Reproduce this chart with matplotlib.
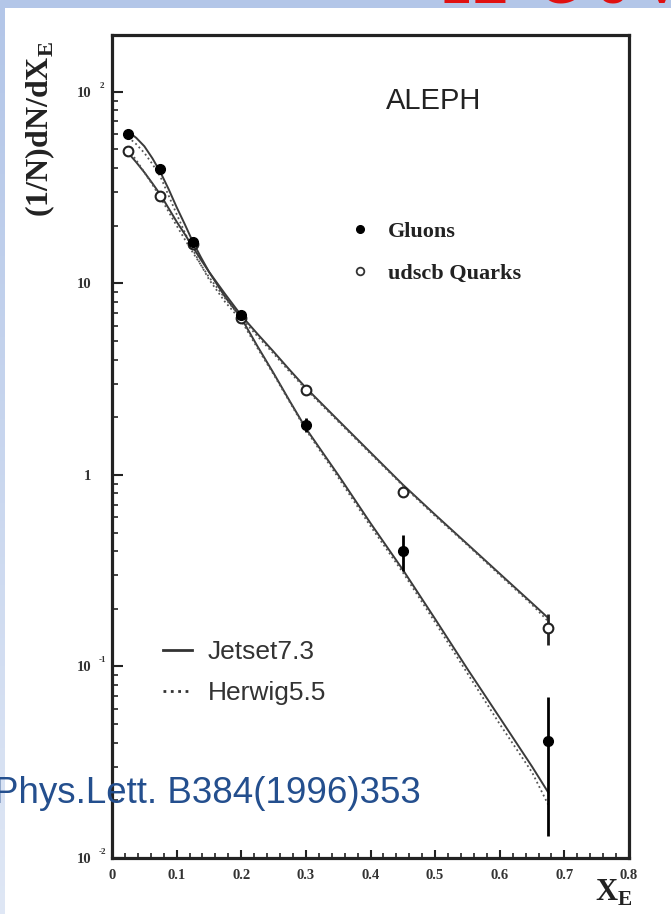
import numpy as np
import matplotlib
matplotlib.use("Agg")
import matplotlib.pyplot as plt
from matplotlib.lines import Line2D
from matplotlib.ticker import FixedLocator, NullFormatter, LogLocator
from matplotlib.colors import LinearSegmentedColormap

# ---------------- data ----------------
x_points = [0.025, 0.075, 0.125, 0.2, 0.3, 0.45, 0.675]
gluon_y = [60.0, 39.5, 16.5, 6.8, 1.83, 0.40, 0.041]
gluon_err_lo = [0.0, 0.0, 0.0, 0.0, 0.15, 0.085, 0.028]
gluon_err_hi = [0.0, 0.0, 0.0, 0.0, 0.16, 0.086, 0.028]

quark_y = [49.0, 28.6, 16.0, 6.6, 2.78, 0.815, 0.159]
quark_err_lo = [0.0, 0.0, 0.0, 0.0, 0.08, 0.05, 0.030]
quark_err_hi = [0.0, 0.0, 0.0, 0.0, 0.08, 0.05, 0.030]

x_curve = [0.025, 0.0375, 0.05, 0.0625, 0.075, 0.0875, 0.1, 0.1125, 0.125,
           0.1375, 0.15, 0.175, 0.2, 0.225, 0.25, 0.275, 0.3, 0.35, 0.4,
           0.45, 0.5, 0.55, 0.6, 0.65, 0.675]
gluon_jetset = [62, 57.5, 52, 45, 38, 31.1, 25, 20.4, 16.5, 13.7, 11.5, 8.5,
                6.6, 4.7, 3.4, 2.43, 1.75, 1.0, 0.56, 0.32, 0.177, 0.097,
                0.054, 0.030, 0.022]
gluon_herwig = [58, 53.3, 48, 42, 36, 28.8, 23, 18.5, 15, 12.5, 10.5, 8.0,
                6.4, 4.6, 3.35, 2.4, 1.72, 0.97, 0.54, 0.31, 0.17, 0.092,
                0.050, 0.028, 0.019]
quark_jetset = [48, 42.9, 38, 33.3, 29, 24.7, 21, 18.1, 15.5, 13.3, 11.5, 8.8,
                6.8, 5.45, 4.4, 3.53, 2.85, 1.93, 1.31, 0.89, 0.62, 0.435,
                0.305, 0.214, 0.179]
quark_herwig = [50, 44, 38, 32.8, 28, 23.7, 20, 17, 14.5, 12.5, 10.8, 8.35,
                6.6, 5.3, 4.3, 3.45, 2.8, 1.9, 1.29, 0.88, 0.61, 0.43,
                0.30, 0.21, 0.172]

xtick_vals = [0, 0.1, 0.2, 0.3, 0.4, 0.5, 0.6, 0.7, 0.8]
xtick_labels = ["0", "0.1", "0.2", "0.3", "0.4", "0.5", "0.6", "0.7", "0.8"]
ytick_vals = [1e-2, 1e-1, 1, 10, 100]
ytick_labels = ["10", "10", "1", "10", "10"]
ytick_exps = ["-2", "-1", "", "", "2"]

# ---------------- figure ----------------
W, H = 671, 914
fig = plt.figure(figsize=(W / 100, H / 100), dpi=100, facecolor="white")

# blue slide border
top = fig.add_axes([0, 1 - 8 / H, 1, 8 / H])
top.set_axis_off()
top.add_patch(plt.Rectangle((0, 0), 1, 1, color="#b3c6e8", transform=top.transAxes))
left = fig.add_axes([0, 0, 5 / W, 1 - 8 / H])
grad = np.linspace(0, 1, 256).reshape(-1, 1)
cm = LinearSegmentedColormap.from_list("b", ["#dfe7f5", "#b3c6e8"])
left.imshow(grad, aspect="auto", cmap=cm, origin="lower", extent=[0, 1, 0, 1])
left.set_axis_off()

fig.text(0.655, 1 - 3 / H, "LE  G e V", color="#e01010", fontsize=40,
         family="Liberation Sans", va="baseline", ha="left", zorder=20)

ax = fig.add_axes([112 / W, 1 - 858 / H, (629 - 112) / W, (858 - 35) / H])
ax.set_yscale("log")
ax.set_xlim(0, 0.8)
ax.set_ylim(0.01, 198)

curve_col = "#3a3a3a"
ax.plot(x_curve, gluon_jetset, "-", color=curve_col, lw=1.4, zorder=2)
ax.plot(x_curve, gluon_herwig, ":", color="#555555", lw=1.3, zorder=2)
ax.plot(x_curve, quark_jetset, "-", color=curve_col, lw=1.4, zorder=2)
ax.plot(x_curve, quark_herwig, ":", color="#555555", lw=1.3, zorder=2)

ax.errorbar(x_points, gluon_y, yerr=[gluon_err_lo, gluon_err_hi], fmt="o",
            color="black", ms=7, elinewidth=2.0, capsize=0, zorder=4)
ax.errorbar(x_points, quark_y, yerr=[quark_err_lo, quark_err_hi], fmt="o",
            mfc="white", mec="#222222", mew=1.5, ecolor="#222222", ms=7,
            elinewidth=2.0, capsize=0, zorder=3)

# axes styling
for s in ax.spines.values():
    s.set_linewidth(2.3)
    s.set_color("#222222")
ax.xaxis.set_major_locator(FixedLocator(xtick_vals))
ax.xaxis.set_minor_locator(FixedLocator(np.arange(0, 0.8001, 0.02)))
ax.set_xticklabels(xtick_labels)
ax.yaxis.set_major_locator(FixedLocator(ytick_vals))
ax.yaxis.set_minor_locator(LogLocator(base=10, subs=np.arange(2, 10)))
ax.yaxis.set_minor_formatter(NullFormatter())
ax.set_yticklabels(ytick_labels)
ax.tick_params(axis="both", which="both", direction="in", top=False, right=False,
               color="#222222")
ax.tick_params(axis="y", which="major", length=8, width=1.5, pad=15)
ax.tick_params(axis="y", which="minor", length=4.5, width=1.2)
ax.tick_params(axis="x", which="major", length=6, width=1.5, pad=8)
ax.tick_params(axis="x", which="minor", length=3.5, width=1.2)
for lab in ax.get_xticklabels() + ax.get_yticklabels():
    lab.set_family("Liberation Serif")
    lab.set_fontweight("bold")
    lab.set_fontsize(10.5)
    lab.set_color("#333333")

for v, e in zip(ytick_vals, ytick_exps):
    if e:
        ax.annotate(e, xy=(0, v), xycoords=("axes fraction", "data"),
                    xytext=(-10, 2), textcoords="offset pixels", fontsize=6.5,
                    family="Liberation Serif", fontweight="bold", color="#333333",
                    ha="center", va="bottom")

# axis titles
fig.text(40 / W, 1 - 129 / H, r"(1/N)dN/dX$_\mathregular{E}$", rotation=90,
         family="Liberation Serif", fontweight="bold", fontsize=23,
         ha="center", va="center", color="#222222")
fig.text(614 / W, 1 - 893 / H, r"X$_\mathregular{E}$", family="Liberation Serif",
         fontweight="bold", fontsize=22, ha="center", va="center", color="#222222")

ax.text(0.623, 0.92, "ALEPH", transform=ax.transAxes, family="Liberation Sans",
        fontsize=21, ha="center", va="center", color="#222222")

# legends
h1 = Line2D([], [], marker="o", ls="none", color="black", ms=5.5)
h2 = Line2D([], [], marker="o", ls="none", mfc="white", mec="#333333", mew=1.3, ms=5.5)
leg1 = ax.legend([h1, h2], ["Gluons", "udscb Quarks"], loc="upper left",
                 bbox_to_anchor=(0.461, 0.774), frameon=False, handlelength=0.9,
                 handletextpad=0.81, labelspacing=0.97, borderpad=0,
                 borderaxespad=0,
                 prop={"family": "Liberation Serif", "weight": "bold", "size": 16})
for t in leg1.get_texts():
    t.set_color("#222222")
ax.add_artist(leg1)
h3 = Line2D([], [], ls="-", color="#333333", lw=2)
h4 = Line2D([], [], ls=":", color="#333333", lw=2)
leg2 = ax.legend([h3, h4], ["Jetset7.3", "Herwig5.5"], loc="upper left",
                 bbox_to_anchor=(0.099, 0.2647), frameon=False, handlelength=1.1,
                 handletextpad=0.6, labelspacing=0.64, borderpad=0,
                 borderaxespad=0,
                 prop={"family": "Liberation Sans", "size": 19})
for t in leg2.get_texts():
    t.set_color("#333333")

fig.text(-6 / W, 1 - 803 / H, "Phys.Lett. B384(1996)353", color="#244f8e",
         fontsize=26.5, family="Liberation Sans", va="baseline", ha="left", zorder=10)

fig.savefig("out.png", dpi=100, facecolor="white")
